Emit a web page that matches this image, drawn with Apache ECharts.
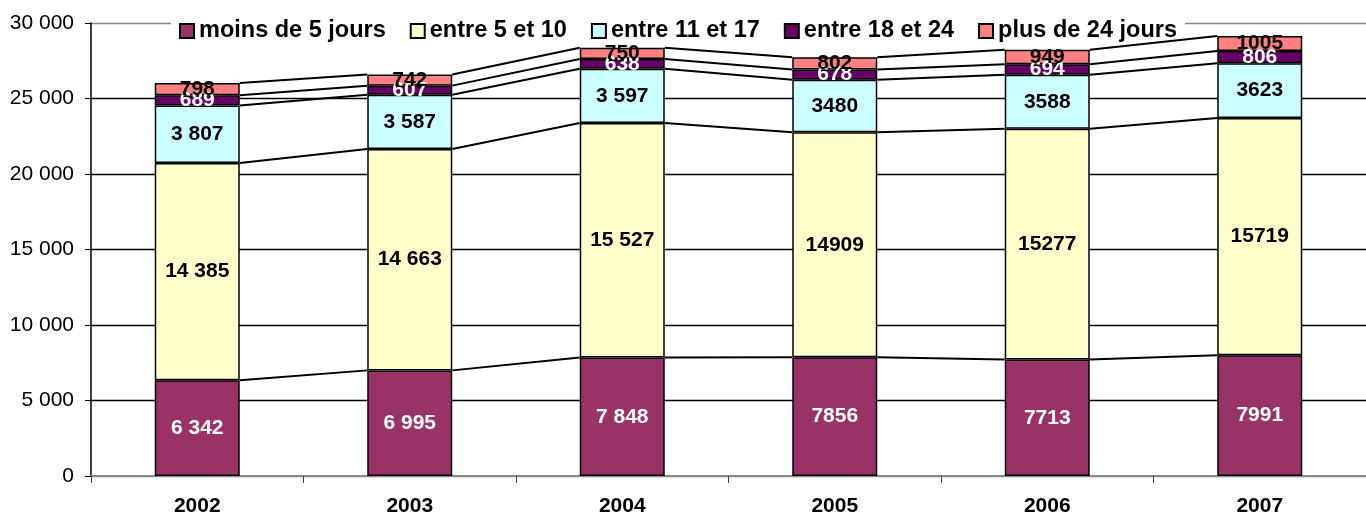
<!DOCTYPE html>
<html>
<head>
<meta charset="utf-8">
<script src="https://cdn.jsdelivr.net/npm/echarts@6/dist/echarts.min.js"></script>
<style>
  html, body { margin: 0; padding: 0; background: #fff; }
  #chart { width: 1366px; height: 517px; }
</style>
</head>
<body>
<div id="chart"></div>
<script>
var years = ['2002', '2003', '2004', '2005', '2006', '2007'];
var moins5 = [6342, 6995, 7848, 7856, 7713, 7991];
var entre5_10 = [14385, 14663, 15527, 14909, 15277, 15719];
var entre11_17 = [3807, 3587, 3597, 3480, 3588, 3623];
var entre18_24 = [689, 607, 638, 678, 694, 806];
var plus24 = [798, 742, 750, 802, 949, 1005];
// the first three years are printed with a space as thousands separator
var spaced = [true, true, true, false, false, false];
var yTicks = [0, 5000, 10000, 15000, 20000, 25000, 30000];

var FONT = '"Liberation Sans", Arial, sans-serif';
const chart = echarts.init(document.getElementById('chart'));

function fmt(v, i) {
    if (spaced[i]) {
        return String(v).replace(/\B(?=(\d{3})+(?!\d))/g, ' ');
    }
    return String(v);
}

var stacks = [
    { name: 'moins de 5 jours', data: moins5, color: '#993366', text: '#fff' },
    { name: 'entre 5 et 10', data: entre5_10, color: '#FFFFCC', text: '#000' },
    { name: 'entre 11 et 17', data: entre11_17, color: '#CCFFFF', text: '#000' },
    { name: 'entre 18 et 24', data: entre18_24, color: '#660066', text: '#fff' },
    { name: 'plus de 24 jours', data: plus24, color: '#FF8080', text: '#000' }
];

// cumulative tops of each segment, used for the series lines
var cum = [];
stacks.forEach(function (s, k) {
    cum.push(s.data.map(function (v, i) {
        return v + (k > 0 ? cum[k - 1][i] : 0);
    }));
});

var series = stacks.map(function (s) {
    return {
        name: s.name,
        type: 'bar',
        stack: 'total',
        barWidth: '40%',
        data: s.data,
        itemStyle: { color: s.color, borderColor: '#000', borderWidth: 1.5 },
        label: {
            show: true,
            position: 'inside',
            color: s.text,
            fontFamily: FONT,
            fontWeight: 'bold',
            fontSize: 21,
            formatter: function (p) { return fmt(p.value, p.dataIndex); }
        }
    };
});

// lines joining segment tops between neighbouring bars
series.push({
    type: 'custom',
    silent: true,
    z: 5,
    data: years.slice(0, -1).map(function (y, i) { return [i, 0]; }),
    encode: { x: 0, y: 1 },
    renderItem: function (params, api) {
        var i = params.dataIndex;
        var half = api.size([1, 0])[0] * 0.4 / 2;
        var children = cum.map(function (c) {
            var a = api.coord([i, c[i]]);
            var b = api.coord([i + 1, c[i + 1]]);
            return {
                type: 'line',
                shape: { x1: a[0] + half, y1: a[1], x2: b[0] - half, y2: b[1] },
                style: { stroke: '#000', lineWidth: 2 }
            };
        });
        return { type: 'group', children: children };
    }
});

chart.setOption({
    animation: false,
    textStyle: { fontFamily: FONT },
    grid: { left: 91, top: 23, bottom: 40, width: 1284 },
    legend: {
        left: 171,
        top: 19,
        padding: [0, 8],
        backgroundColor: '#fff',
        itemWidth: 14,
        itemHeight: 14,
        itemGap: 24,
        icon: 'rect',
        textStyle: { fontFamily: FONT, fontWeight: 'bold', fontSize: 23.5, color: '#000' },
        data: stacks.map(function (s) { return s.name; })
    },
    xAxis: {
        type: 'category',
        data: years,
        axisLine: { lineStyle: { color: '#888', width: 2 } },
        axisTick: { show: true, length: 7, lineStyle: { color: '#444' } },
        axisLabel: { color: '#000', fontWeight: 'bold', fontSize: 21, margin: 20 }
    },
    yAxis: {
        type: 'value',
        min: yTicks[0],
        max: yTicks[yTicks.length - 1],
        interval: 5000,
        axisLine: { show: true, lineStyle: { color: '#000', width: 1.5 } },
        axisTick: { show: true, length: 6, lineStyle: { color: '#000' } },
        axisLabel: {
            color: '#000',
            fontSize: 21,
            margin: 17,
            formatter: function (v) { return String(v).replace(/\B(?=(\d{3})+(?!\d))/g, ' '); }
        },
        splitLine: {
            lineStyle: { color: ['#888', '#000', '#000', '#000', '#000', '#000', '#888'], width: 1.3 }
        }
    },
    series: series
});
</script>
</body>
</html>
